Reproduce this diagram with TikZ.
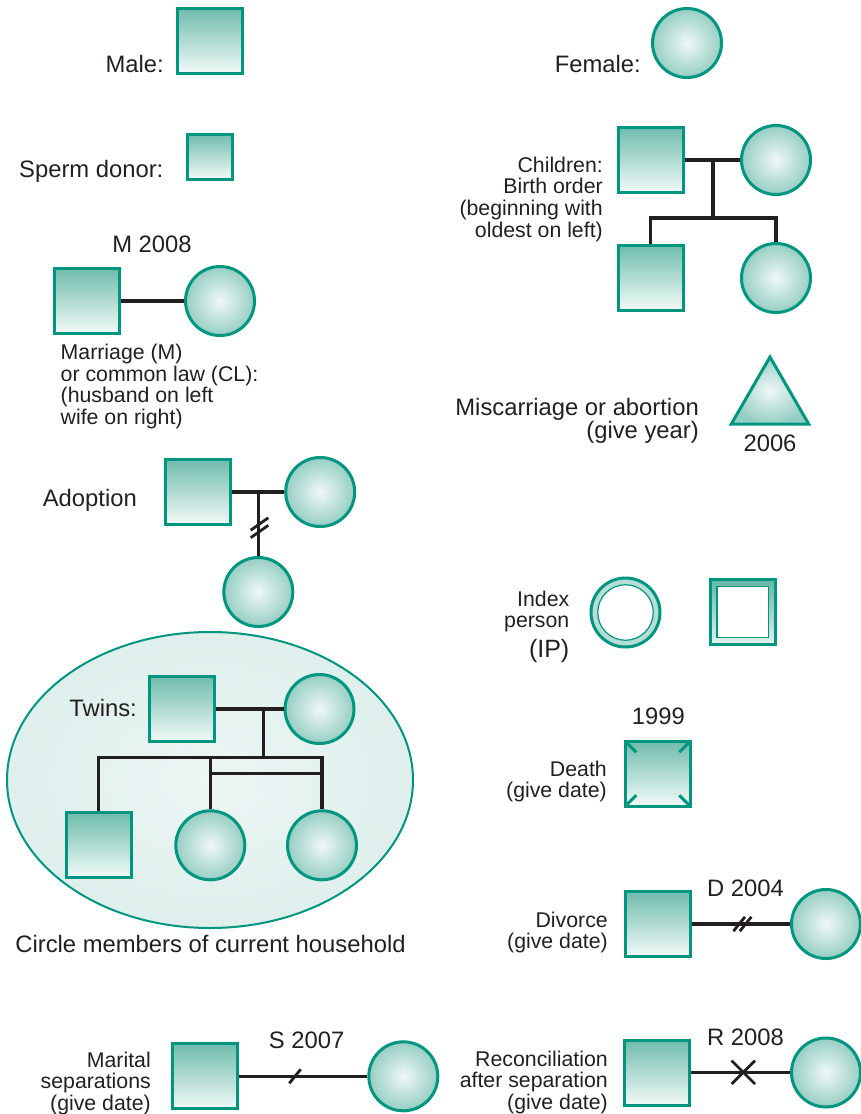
\documentclass[tikz,border=0pt]{standalone}
\usepackage{fontspec}
\setmainfont{Liberation Sans}
\usetikzlibrary{shapes.geometric}

\definecolor{gline}{RGB}{0,150,128}
\definecolor{gtop}{RGB}{112,188,172}
\definecolor{gbot}{RGB}{242,250,248}
\definecolor{gin}{RGB}{240,248,247}
\definecolor{gout}{RGB}{150,206,195}
\definecolor{ringc}{RGB}{182,222,214}
\definecolor{iptop}{RGB}{100,182,166}
\definecolor{ipbot}{RGB}{228,242,239}
\definecolor{hhin}{RGB}{236,246,245}
\definecolor{hhout}{RGB}{222,239,236}
\definecolor{ink}{RGB}{35,31,32}

% stacked label lines, first baseline = node baseline
\newcommand{\rlines}[1]{\begin{tabular}[t]{@{}r@{}}#1\end{tabular}}
\newcommand{\llines}[1]{\begin{tabular}[t]{@{}l@{}}#1\end{tabular}}

\tikzset{
  male/.style={rectangle, draw=gline, line width=3pt, top color=gtop, bottom color=gbot,
    minimum size=65pt, inner sep=0pt},
  female/.style={circle, draw=gline, line width=3pt, inner color=gin, outer color=gout,
    minimum size=69pt, inner sep=0pt},
  rel/.style={draw=ink, line width=3.2pt},
  tick/.style={draw=ink, line width=2.8pt},
  dmark/.style={draw=gline, line width=3pt},
  big/.style={font=\fontsize{23.8}{20}\selectfont, text=ink, inner sep=0pt},
  small/.style={font=\fontsize{21.3}{21}\selectfont, text=ink, inner sep=0pt},
  house/.style={ellipse, draw=gline, line width=2pt, inner color=hhin, outer color=hhout,
    minimum width=406pt, minimum height=296pt, inner sep=0pt},
}

\begin{document}
\begin{tikzpicture}[x=1pt,y=-1pt]
\useasboundingbox (0,0) rectangle (861,1114);

% ---------- basic symbols ----------
\node[male] (male) at (210,41) {};
\node[big, anchor=base east] (lmale) at (164,72) {Male:};
\node[female] (female) at (687,43) {};
\node[big, anchor=base east] (lfemale) at (641,72) {Female:};

\node[male, minimum size=45pt] (donor) at (209.5,156.5) {};
\node[big, anchor=base west] (ldonor) at (19,177) {Sperm donor:};

% ---------- children ----------
\node[male] (cps) at (650.8,160) {};
\node[female] (cpc) at (776,160) {};
\node[male] (ccs) at (650.8,277.5) {};
\node[female] (ccc) at (776,278) {};
\coordinate (cj) at (713,218);
\draw[rel] (cps) -- (cpc);
\draw[rel] (cps -| cj) -- (cj);
\draw[rel] (ccs.north) |- (cj) -| (ccc.north);
\node[small, anchor=base east] (lchild) at (603,172)
  {\rlines{Children:\\Birth order\\(beginning with\\oldest on left)}};

% ---------- marriage ----------
\node[male] (msq) at (87,301) {};
\node[female] (mci) at (220,301) {};
\draw[rel] (msq) -- (mci);
\node[big, anchor=base] (lm) at (152,252) {M 2008};
\node[small, anchor=base west] (lmar) at (60.5,359.3)
  {\llines{Marriage (M)\\or common law (CL):\\(husband on left\\wife on right)}};

% ---------- miscarriage ----------
\node[regular polygon, regular polygon sides=3, draw=gline, line width=3pt,
  inner color=gin, outer color=gout, minimum size=89.4pt, inner sep=0pt] (mis) at (770,401.7) {};
\node[big, anchor=base east] (lmis) at (699,415.7)
  {\rlines{Miscarriage or abortion\\(give year)}};
\node[big, anchor=base] (lmy) at (770,451.7) {2006};

% ---------- adoption ----------
\node[male] (asq) at (198,492) {};
\node[female] (aci) at (320.2,492) {};
\node[female] (ach) at (258.3,592) {};
\draw[rel] (asq) -- (aci);
\draw[rel] (ach.north) -- (ach.north |- aci);
\coordinate (am1) at (259.5,524);
\coordinate (am2) at (259.5,531.5);
\draw[tick] (am1) ++(-8.8,6.2) -- ++(17.6,-12.4);
\draw[tick] (am2) ++(-8.8,6.2) -- ++(17.6,-12.4);
\node[big, anchor=base east] (lad) at (137,506) {Adoption};

% ---------- index person ----------
\node[circle, draw=gline, line width=3pt, fill=ringc, minimum size=69pt, inner sep=0pt] (ipc) at (625.5,612.5) {};
\node[circle, draw=gline, line width=1.2pt, fill=white, minimum size=55.5pt, inner sep=0pt] (ipci) at (ipc.center) {};
\node[rectangle, draw=gline, line width=3pt, top color=iptop, bottom color=ipbot,
  minimum size=65pt, inner sep=0pt] (ips) at (742.8,612) {};
\node[rectangle, draw=gline, line width=1.2pt, fill=white, minimum size=51.5pt, inner sep=0pt] (ipsi) at (ips.center) {};
\node[small, anchor=base east] (lip) at (569.5,606) {\rlines{Index\\person}};
\node[small, font=\fontsize{25}{25}\selectfont, anchor=base east] (lipb) at (569.5,657) {(IP)};

% ---------- household with twins ----------
\node[house] (hh) at (210,780) {};
\node[male] (tsq) at (182,709) {};
\node[female] (tci) at (319.5,709) {};
\node[male] (tc1) at (98.7,845.3) {};
\node[female] (tc2) at (210.3,845.3) {};
\node[female] (tc3) at (322,845.3) {};
\coordinate (tj) at (263.3,757.7);
\coordinate (tbar) at (266,773.3);
\draw[rel] (tsq) -- (tci);
\draw[rel] (tsq -| tj) -- (tj);
\draw[rel] (tc1.north) |- (tj) -| (tc3.north);
\draw[rel] (tc2.north) -- (tc2.north |- tj);
\draw[rel] (tc2.north |- tbar) -- (tc3.north |- tbar);
\node[big, anchor=base east] (ltw) at (137,716) {Twins:};
\node[big, anchor=base] (lhh) at (210.5,952.7) {Circle members of current household};

% ---------- death ----------
\node[male] (death) at (657.8,773.7) {};
\foreach \sx/\sy in {1/1,-1/1,1/-1,-1/-1}
  \draw[dmark] (death) ++(\sx*31,\sy*31) -- ++(-\sx*9.5,-\sy*9.5);
\node[big, anchor=base] (ldy) at (658.3,724) {1999};
\node[small, anchor=base east] (ld) at (607,776) {\rlines{Death\\(give date)}};

% ---------- divorce ----------
\node[male] (dsq) at (657.8,924) {};
\node[female] (dci) at (826,924) {};
\draw[rel] (dsq) -- (dci);
\coordinate (dm1) at (739.2,924);
\coordinate (dm2) at (745.6,924);
\draw[tick] (dm1) ++(-5.8,7.2) -- ++(11.6,-14.4);
\draw[tick] (dm2) ++(-5.8,7.2) -- ++(11.6,-14.4);
\node[big, anchor=base] (ldv) at (745.5,896.7) {D 2004};
\node[small, anchor=base east] (ldiv) at (608,927) {\rlines{Divorce\\(give date)}};

% ---------- separation ----------
\node[male] (ssq) at (205.3,1076.3) {};
\node[female] (sci) at (403.3,1076.3) {};
\draw[rel] (ssq) -- (sci);
\coordinate (sm) at (295,1076.3);
\draw[tick] (sm) ++(-5.7,7) -- ++(11.4,-14);
\node[big, anchor=base] (lsy) at (306.7,1048) {S 2007};
\node[small, anchor=base east] (lsep) at (151,1067) {\rlines{Marital\\separations\\(give date)}};

% ---------- reconciliation ----------
\node[male] (rsq) at (657.3,1072.5) {};
\node[female] (rci) at (826,1072.5) {};
\draw[rel] (rsq) -- (rci);
\coordinate (rx) at (743.3,1072.3);
\draw[tick] (rx) ++(-11.7,-11.7) -- ++(23.4,23.4);
\draw[tick] (rx) ++(-11.7,11.7) -- ++(23.4,-23.4);
\node[big, anchor=base] (lry) at (745.5,1045) {R 2008};
\node[small, anchor=base east] (lrec) at (608,1066)
  {\rlines{Reconciliation\\after separation\\(give date)}};

\end{tikzpicture}
\end{document}
